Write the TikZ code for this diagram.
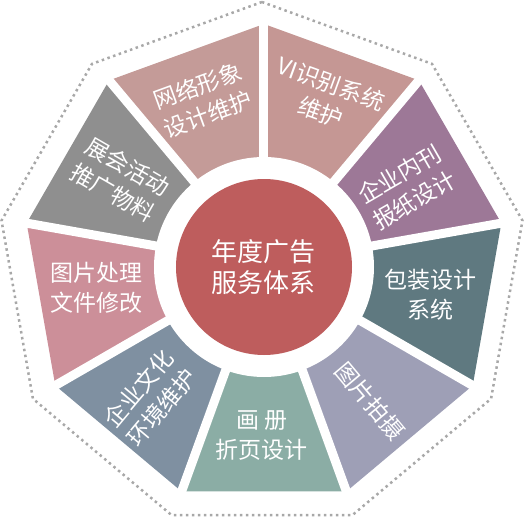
\documentclass[tikz,border=0pt]{standalone}
\usepackage{fontspec}
\newfontfamily\cjk{Noto Sans CJK SC}
\definecolor{hubred}{HTML}{BE5D5D}
\definecolor{rimgrey}{HTML}{A8A8A8}
\definecolor{webc}{HTML}{C49B98}
\definecolor{vic}{HTML}{C59794}
\definecolor{journalc}{HTML}{9D7897}
\definecolor{packc}{HTML}{5F7980}
\definecolor{photoc}{HTML}{9E9FB6}
\definecolor{albumc}{HTML}{8BADA5}
\definecolor{culturec}{HTML}{7F90A1}
\definecolor{retouchc}{HTML}{CC8F99}
\definecolor{expoc}{HTML}{8F8F8F}

\begin{document}
\begin{tikzpicture}[
  x=1pt,y=1pt,
  segtext/.style={text=white,align=center,inner sep=0pt,
                  font=\cjk\fontsize{23}{30}\selectfont},
  hub/.style={circle,fill=hubred,minimum size=176pt,inner sep=0pt,text=white,
              align=center,font=\cjk\fontsize{26}{31}\selectfont},
  gap/.style={draw=white,line width=9pt},
  rim/.style={draw=rimgrey,line width=2.5pt,dash pattern=on 2.5pt off 3.5pt}
]
\useasboundingbox (-264,-252) rectangle (261,265);

% coloured sectors, then the white gaps between them
\foreach \a/\c in {90/webc,130/expoc,170/retouchc,210/culturec,250/albumc,
                   290/photoc,330/packc,10/journalc,50/vic}
  \fill[fill=\c] (0,0) -- (\a:241) -- (\a+40:241) -- cycle;
\foreach \a in {10,50,...,330}
  \draw[gap] (0,0) -- (\a:255);

\coordinate (hubc) at (0,-2);
\fill[white] (hubc) circle (110);
\node[hub] (hub) at (hubc) {年度广告\\服务体系};

\node[segtext,rotate=20]  (web)     at (-61,165)  {网络形象\\设计维护};
\node[segtext,rotate=-20] (vi)      at (62,167)   {VI识别系统\\维护};
\node[segtext,rotate=30]  (journal) at (143,78)   {企业内刊\\报纸设计};
\node[segtext]            (pack)    at (166,-30)  {包装设计\\系统};
\node[segtext,rotate=-50] (photo)   at (106,-136) {图片拍摄};
\node[segtext]            (album)   at (-2,-171)  {画 册\\折页设计};
\node[segtext,rotate=50]  (culture) at (-114,-133) {企业文化\\环境维护};
\node[segtext]            (retouch) at (-167,-23) {图片处理\\文件修改};
\node[segtext,rotate=-30] (expo)    at (-144,85)  {展会活动\\推广物料};

% dotted outer rim
\begin{scope}[shift={(-2,-1.5)}]
  \draw[rim] (90:264.5) \foreach \a in {130,170,...,410} {-- (\a:264.5)} -- cycle;
\end{scope}
\end{tikzpicture}
\end{document}
